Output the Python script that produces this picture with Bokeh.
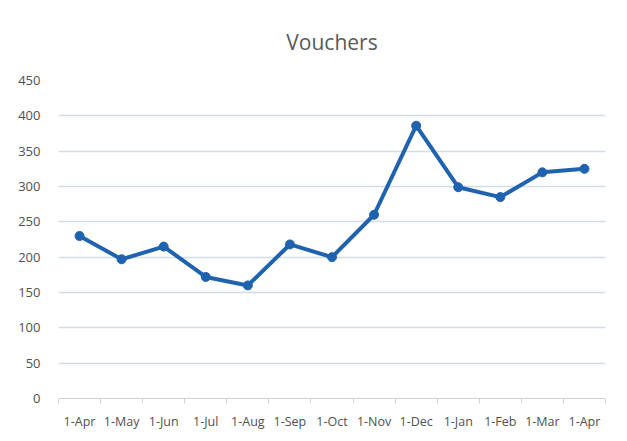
from bokeh.plotting import figure
from bokeh.models import FixedTicker, Range1d, ColumnDataSource
from bokeh.embed import file_html
from bokeh.resources import INLINE

categories = ["1-Apr", "1-May", "1-Jun", "1-Jul", "1-Aug", "1-Sep", "1-Oct",
              "1-Nov", "1-Dec", "1-Jan", "1-Feb", "1-Mar", "1-Apr"]
vouchers = [230, 197, 215, 172, 160, 218, 200, 260, 386, 299, 285, 320, 325]
y_ticks = [0, 50, 100, 150, 200, 250, 300, 350, 400, 450]

xs = list(range(len(categories)))
src = ColumnDataSource(dict(x=xs, y=vouchers))

p = figure(width=619, height=433, output_backend="svg", toolbar_location=None,
           x_range=Range1d(-0.5, len(categories) - 0.5), y_range=Range1d(0, 450),
           min_border_left=58, min_border_right=14, min_border_top=80, min_border_bottom=35)
p.outline_line_color = None
p.border_fill_color = "white"

p.title.text = "Vouchers"
p.title.align = "center"
p.title.text_font = "Open Sans"
p.title.text_font_size = "21px"
p.title.text_font_style = "normal"
p.title.text_color = "#595959"
p.title.standoff = 49

p.line("x", "y", source=src, line_color="#1f63b0", line_width=4)
p.scatter("x", "y", source=src, size=9, fill_color="#1f63b0", line_color="#1f63b0")

# x axis
p.xaxis.ticker = FixedTicker(ticks=xs, minor_ticks=[i - 0.5 for i in range(len(categories) + 1)])
p.xaxis.major_label_overrides = {i: c for i, c in enumerate(categories)}
p.xaxis.major_tick_line_color = None
p.xaxis.minor_tick_in = 0
p.xaxis.minor_tick_out = 5
p.xaxis.minor_tick_line_color = "#d0d0d0"
p.xaxis.axis_line_color = "#d0d0d0"
p.xaxis.major_label_text_font = "Open Sans"
p.xaxis.major_label_text_font_size = "12.5px"
p.xaxis.major_label_text_color = "#505050"
p.xaxis.major_label_standoff = 8

# y axis
p.yaxis.ticker = FixedTicker(ticks=y_ticks)
p.yaxis.axis_line_color = None
p.yaxis.major_tick_line_color = None
p.yaxis.minor_tick_line_color = None
p.yaxis.major_label_text_font = "Open Sans"
p.yaxis.major_label_text_font_size = "13px"
p.yaxis.major_label_text_color = "#505050"
p.yaxis.major_label_standoff = 12

p.xgrid.grid_line_color = None
p.ygrid.ticker = FixedTicker(ticks=y_ticks)
p.ygrid.grid_line_color = "#d3dde6"
p.ygrid.grid_line_width = 1.5

open("out.html", "w").write(file_html(p, INLINE))
